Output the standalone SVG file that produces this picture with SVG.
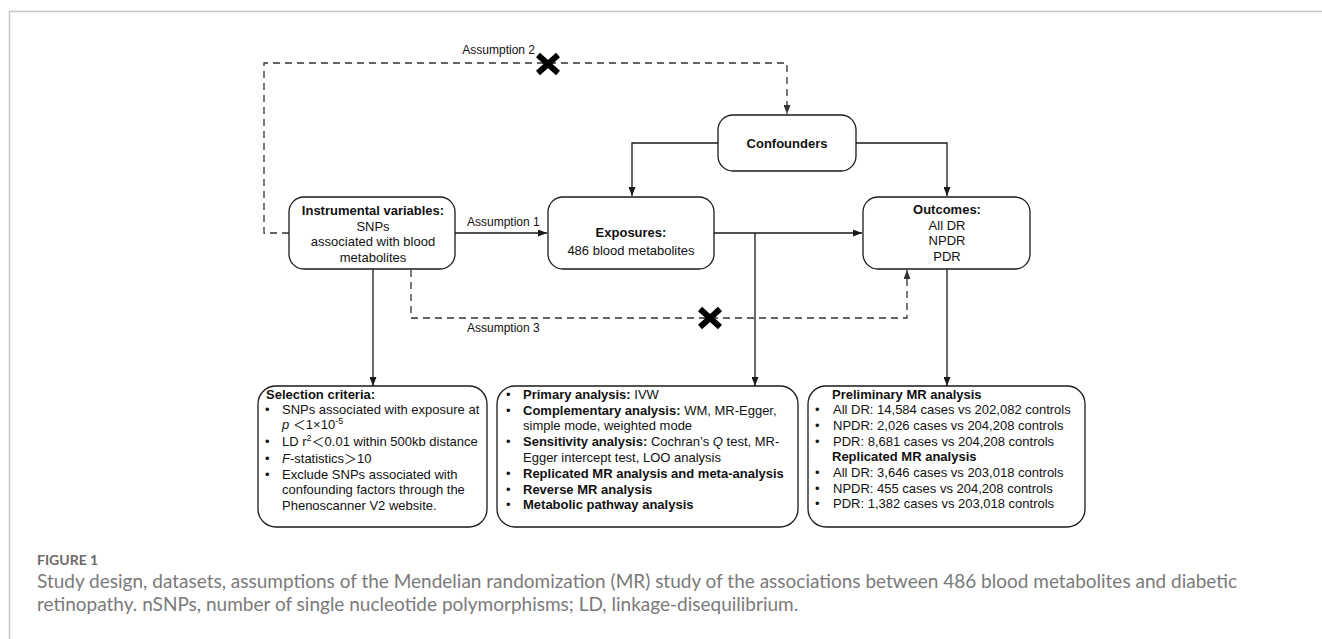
<svg xmlns="http://www.w3.org/2000/svg" width="1322" height="639" viewBox="0 0 1322 639">
<style>
.box{fill:#fff;stroke:#1a1a1a;stroke-width:1.3}
.t{font-family:"Liberation Sans",Arial,"Noto Sans CJK SC",sans-serif;font-size:13px;fill:#111}
.c{text-anchor:middle}
.b{font-weight:bold}
.lbl{font-family:"Liberation Sans",Arial,sans-serif;font-size:12px;fill:#111}
.ln{fill:none;stroke:#1a1a1a;stroke-width:1.3}
.dl{fill:none;stroke:#333;stroke-width:1.3;stroke-dasharray:7 5}
.cap{font-family:Lato,"Open Sans",sans-serif;font-size:19px;fill:#7a7a7a}
.fig{font-family:Lato,"Open Sans",sans-serif;font-size:14px;font-weight:bold;fill:#6a6a6a}
.xm{stroke:#000;stroke-width:6;fill:none}
</style>
<defs>
<marker id="ah" markerWidth="9" markerHeight="7" refX="9" refY="3.5" orient="auto" markerUnits="userSpaceOnUse"><path d="M0,0 L9,3.5 L0,7 z" fill="#1a1a1a"/></marker>
<marker id="ahd" markerWidth="9" markerHeight="7" refX="9" refY="3.5" orient="auto" markerUnits="userSpaceOnUse"><path d="M0,0 L9,3.5 L0,7 z" fill="#333"/></marker>
<path id="xmark" class="xm" d="M-10,-9 L10,9 M10,-9 L-10,9"/>
</defs>

<g id="frame">
<path d="M9.5,639 V11.5 H1322" fill="none" stroke="#c8c8c8" stroke-width="1.5"/>
</g>

<g id="connectors">
<path class="dl" d="M289,233 H264 V63 H787 V114" marker-end="url(#ahd)"/>
<path class="dl" d="M411,270 V318 H907 V270" marker-end="url(#ahd)"/>
<path class="ln" d="M455,233 H547" marker-end="url(#ah)"/>
<path class="ln" d="M714,233 H862" marker-end="url(#ah)"/>
<path class="ln" d="M755,233 V386" marker-end="url(#ah)"/>
<path class="ln" d="M718,143 H632 V196" marker-end="url(#ah)"/>
<path class="ln" d="M856,143 H947 V196" marker-end="url(#ah)"/>
<path class="ln" d="M373,269 V386" marker-end="url(#ah)"/>
<path class="ln" d="M947,269 V386" marker-end="url(#ah)"/>
<use href="#xmark" x="548" y="64"/>
<use href="#xmark" x="710" y="318"/>
<text class="lbl" x="535" y="54" text-anchor="end">Assumption 2</text>
<text class="lbl" x="467" y="226">Assumption 1</text>
<text class="lbl" x="467" y="332">Assumption 3</text>
</g>

<g id="confounders">
<rect class="box" x="718" y="115" width="138" height="56" rx="15"/>
<text class="t c b" x="787" y="148">Confounders</text>
</g>

<g id="instrumental">
<rect class="box" x="289" y="197" width="166" height="72" rx="15"/>
<text class="t c b" x="373" y="215">Instrumental variables:</text>
<text class="t c" x="373" y="231">SNPs</text>
<text class="t c" x="373" y="246">associated with blood</text>
<text class="t c" x="373" y="262">metabolites</text>
</g>

<g id="exposures">
<rect class="box" x="548" y="197" width="166" height="72" rx="15"/>
<text class="t c b" x="631" y="237">Exposures:</text>
<text class="t c" x="631" y="255">486 blood metabolites</text>
</g>

<g id="outcomes">
<rect class="box" x="863" y="197" width="167" height="72" rx="15"/>
<text class="t c b" x="947" y="214">Outcomes:</text>
<text class="t c" x="947" y="230">All DR</text>
<text class="t c" x="947" y="245">NPDR</text>
<text class="t c" x="947" y="261">PDR</text>
</g>

<g id="selection">
<rect class="box" x="258" y="386" width="229" height="141" rx="18"/>
<text class="t b" x="266" y="399">Selection criteria:</text>
<text class="t" x="265" y="414">•</text>
<text class="t" x="282" y="414">SNPs associated with exposure at</text>
<text class="t" x="282" y="429"><tspan font-style="italic">p</tspan> ＜1×10<tspan font-size="9" dy="-5">-5</tspan></text>
<text class="t" x="265" y="446">•</text>
<text class="t" x="282" y="446">LD r<tspan font-size="9" dy="-5">2</tspan><tspan dy="5">＜0.01 within 500kb distance</tspan></text>
<text class="t" x="265" y="463">•</text>
<text class="t" x="282" y="463"><tspan font-style="italic">F</tspan>-statistics＞10</text>
<text class="t" x="265" y="479">•</text>
<text class="t" x="282" y="479">Exclude SNPs associated with</text>
<text class="t" x="282" y="494">confounding factors through the</text>
<text class="t" x="282" y="510">Phenoscanner V2 website.</text>
</g>

<g id="analysis">
<rect class="box" x="497" y="386" width="301" height="141" rx="18"/>
<text class="t" x="506" y="399">•</text>
<text class="t" x="523" y="399"><tspan class="b">Primary analysis:</tspan> IVW</text>
<text class="t" x="506" y="415">•</text>
<text class="t" x="523" y="415"><tspan class="b">Complementary analysis:</tspan> WM, MR-Egger,</text>
<text class="t" x="523" y="430">simple mode, weighted mode</text>
<text class="t" x="506" y="446">•</text>
<text class="t" x="523" y="446"><tspan class="b">Sensitivity analysis:</tspan> Cochran’s <tspan font-style="italic">Q</tspan> test, MR-</text>
<text class="t" x="523" y="462">Egger intercept test, LOO analysis</text>
<text class="t" x="506" y="478">•</text>
<text class="t b" x="523" y="478">Replicated MR analysis and meta-analysis</text>
<text class="t" x="506" y="494">•</text>
<text class="t b" x="523" y="494">Reverse MR analysis</text>
<text class="t" x="506" y="509">•</text>
<text class="t b" x="523" y="509">Metabolic pathway analysis</text>
</g>

<g id="datasets">
<rect class="box" x="808" y="386" width="277" height="141" rx="18"/>
<text class="t b" x="832" y="399">Preliminary MR analysis</text>
<text class="t" x="815" y="414">•</text>
<text class="t" x="833" y="414">All DR: 14,584 cases vs 202,082 controls</text>
<text class="t" x="815" y="430">•</text>
<text class="t" x="833" y="430">NPDR: 2,026 cases vs 204,208 controls</text>
<text class="t" x="815" y="446">•</text>
<text class="t" x="833" y="446">PDR: 8,681 cases vs 204,208 controls</text>
<text class="t b" x="832" y="461">Replicated MR analysis</text>
<text class="t" x="815" y="477">•</text>
<text class="t" x="833" y="477">All DR: 3,646 cases vs 203,018 controls</text>
<text class="t" x="815" y="493">•</text>
<text class="t" x="833" y="493">NPDR: 455 cases vs 204,208 controls</text>
<text class="t" x="815" y="508">•</text>
<text class="t" x="833" y="508">PDR: 1,382 cases vs 203,018 controls</text>
</g>

<g id="caption">
<text class="fig" x="37" y="565">FIGURE 1</text>
<text class="cap" x="37" y="588">Study design, datasets, assumptions of the Mendelian randomization (MR) study of the associations between 486 blood metabolites and diabetic</text>
<text class="cap" x="37" y="611">retinopathy. nSNPs, number of single nucleotide polymorphisms; LD, linkage-disequilibrium.</text>
</g>
</svg>
